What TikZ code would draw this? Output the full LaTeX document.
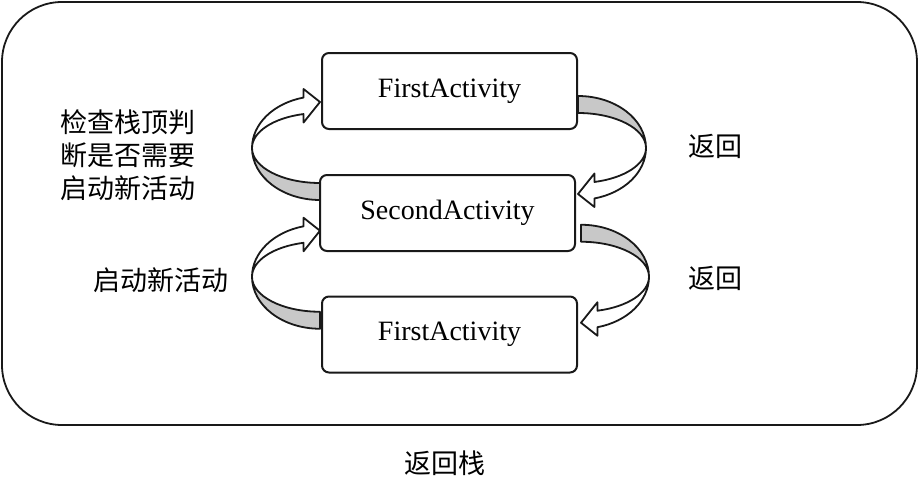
\documentclass[tikz,border=0pt]{standalone}
\usepackage{fontspec}
\setmainfont{Liberation Serif}
\newfontfamily\cjk{Noto Sans CJK SC}
\usetikzlibrary{calc}

\tikzset{
  actbox/.style={draw=edgeblk, line width=2pt, rounded corners=7pt, fill=white,
    minimum width=255pt, minimum height=76pt, font=\fontsize{28}{30}\selectfont},
  cjklbl/.style={font=\cjk\fontsize{27}{33}\selectfont, align=center, inner sep=0pt},
  % twisted band with arrow head, centre on the box edge
  ribbon/.pic={
    \filldraw[fill=greyband, draw=edgeblk, line width=1.8pt, line join=round]
      (0,52) arc[start angle=90, end angle=0, x radius=68pt, y radius=52pt]
      arc[start angle=0, end angle=90, x radius=68pt, y radius=35pt] -- cycle;
    \filldraw[fill=white, draw=edgeblk, line width=1.8pt, line join=round]
      (68,0) arc[start angle=0, end angle=-76, x radius=68pt, y radius=52pt]
      -- (16.45,-59) -- (0,-46) -- (16.45,-25.5) -- (16.45,-33.96)
      arc[start angle=-76, end angle=0, x radius=68pt, y radius=35pt] -- cycle;
  }
}

\begin{document}
\begin{tikzpicture}[x=1pt, y=1pt]

\definecolor{edgeblk}{RGB}{25,25,25}
\definecolor{greyband}{RGB}{200,200,200}

\useasboundingbox (0,0) rectangle (919,-479);

% Marco de la pila
\draw[edgeblk, line width=1.8pt, rounded corners=60pt] (2,-2) rectangle (917,-425);
\node[cjklbl] (stackname) at (445,-463) {返回栈};

% === ACTIVIDADES ===
\node[actbox] (f1) at (449.5,-91)  {FirstActivity};
\node[actbox] (s)  at (447.5,-213) {SecondActivity};
\node[actbox] (f2) at (449.5,-334.5) {FirstActivity};

% === FLECHAS ===
\coordinate (lu) at ($(f1.south west)!0.5!(s.north west)+(0,4)$);
\coordinate (ru) at ($(f1.south east)!0.5!(s.north east)+(1,4)$);
\coordinate (ll) at ($(s.south west)!0.5!(f2.north west)+(0,-3)$);
\coordinate (rl) at ($(s.south east)!0.5!(f2.north east)+(4,-3)$);

\pic[rotate=180] at (lu) {ribbon};
\pic at (ru) {ribbon};
\pic[rotate=180] at (ll) {ribbon};
\pic at (rl) {ribbon};

% === TEXTOS ===
\node[cjklbl] (check) at (128,-155) {检查栈顶判\\断是否需要\\启动新活动};
\node[cjklbl] (launch) at (161,-280) {启动新活动};
\node[cjklbl] (back1) at (715,-146) {返回};
\node[cjklbl] (back2) at (715,-278) {返回};

\end{tikzpicture}
\end{document}
